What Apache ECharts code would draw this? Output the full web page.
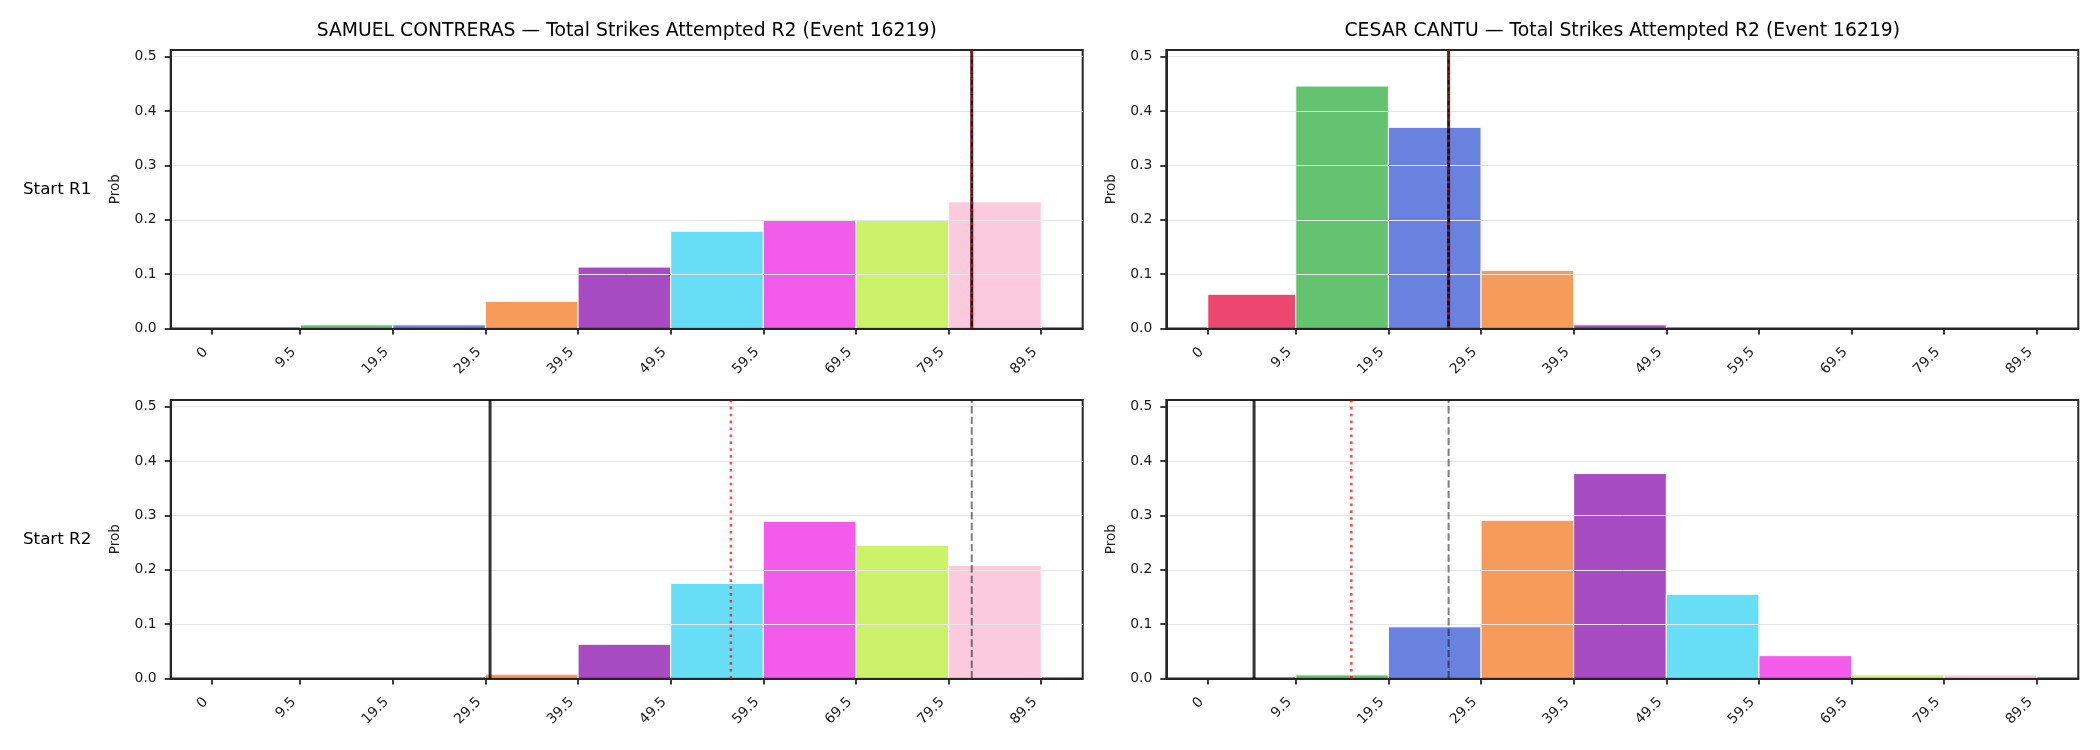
<!DOCTYPE html>
<html><head><meta charset="utf-8">
<script src="https://cdn.jsdelivr.net/npm/echarts@6/dist/echarts.min.js"></script>
<style>html,body{margin:0;padding:0;background:#fff}#c{width:2100px;height:750px}</style>
</head><body><div id="c"></div>
<script>
// ---- data ----
const binEdges = [0, 9.5, 19.5, 29.5, 39.5, 49.5, 59.5, 69.5, 79.5, 89.5];
const tickLabels = ['0', '9.5', '19.5', '29.5', '39.5', '49.5', '59.5', '69.5', '79.5', '89.5'];
const yTicks = [0, 0.1, 0.2, 0.3, 0.4, 0.5];
const fighters = ['SAMUEL CONTRERAS', 'CESAR CANTU'];
const rowLabels = ['Start R1', 'Start R2'];
const titleSuffix = ' \u2014 Total Strikes Attempted R2 (Event 16219)';
const samuelR1 = [0, 0.0067, 0.0067, 0.050, 0.113, 0.179, 0.200, 0.200, 0.233];
const samuelR2 = [0, 0, 0, 0.008, 0.063, 0.175, 0.289, 0.245, 0.208];
const cesarR1 = [0.063, 0.446, 0.370, 0.107, 0.0067, 0, 0, 0, 0];
const cesarR2 = [0, 0.0067, 0.095, 0.291, 0.377, 0.155, 0.042, 0.0067, 0.0067];
// vertical reference lines: [gray dashed, black solid, red dotted]
const samuelR1Lines = [82, 82, 82];
const samuelR2Lines = [82, 30, 56];
const cesarR1Lines = [26, 26, 26];
const cesarR2Lines = [26, 5, 15.5];
const binColors = ['rgba(230,25,75,0.8)', 'rgba(60,180,75,0.8)', 'rgba(67,99,216,0.8)', 'rgba(245,130,49,0.8)',
  'rgba(145,30,180,0.8)', 'rgba(66,212,244,0.8)', 'rgba(240,50,230,0.8)', 'rgba(191,239,69,0.8)', 'rgba(250,190,212,0.8)'];

// ---- layout ----
const Y_MAX = 0.5123, X_MIN = -4.475, X_MAX = 93.975;
const FONT = 'DejaVu Sans';
const gridLefts = [170.7, 1166.3];
const gridTops = [50, 400];
const GRID_W = 912, GRID_H = 278.5;
const panels = [
  { vals: samuelR1, lines: samuelR1Lines, col: 0, row: 0 },
  { vals: cesarR1, lines: cesarR1Lines, col: 1, row: 0 },
  { vals: samuelR2, lines: samuelR2Lines, col: 0, row: 1 },
  { vals: cesarR2, lines: cesarR2Lines, col: 1, row: 1 }
];
const lineStyles = [
  { color: 'rgba(0,0,0,0.5)', width: 2, type: [7.4, 3.2] },
  { color: 'rgba(0,0,0,0.8)', width: 3, type: 'solid' },
  { color: 'rgba(255,0,0,0.7)', width: 2.6, type: [2.6, 4.3] }
];
const AX = '#262626';

const grids = [], xAxes = [], yAxes = [], series = [], graphics = [];
panels.forEach((p, i) => {
  grids.push({ left: gridLefts[p.col], top: gridTops[p.row], width: GRID_W, height: GRID_H,
    show: true, borderColor: AX, borderWidth: 2, backgroundColor: 'transparent', containLabel: false });
  xAxes.push({ type: 'value', gridIndex: i, min: X_MIN, max: X_MAX, z: 5,
    axisLine: { show: true, onZero: false, lineStyle: { color: AX, width: 2 } },
    axisTick: { show: true, customValues: binEdges, length: 6, lineStyle: { color: AX, width: 1.8 } },
    axisLabel: { customValues: binEdges, rotate: 45, margin: 15, padding: [0, 9, 0, 0],
      fontSize: 14, color: '#1a1a1a', fontFamily: FONT,
      formatter: v => { const k = binEdges.indexOf(v); return k >= 0 ? tickLabels[k] : String(v); } },
    splitLine: { show: false } });
  yAxes.push({ type: 'value', gridIndex: i, min: 0, max: Y_MAX, interval: 0.1, z: 5,
    axisLine: { show: true, onZero: false, lineStyle: { color: AX, width: 2 } },
    axisTick: { show: true, customValues: yTicks, length: 6, lineStyle: { color: AX, width: 1.8 } },
    axisLabel: { customValues: yTicks, margin: 14, fontSize: 13.9, color: '#1a1a1a', fontFamily: FONT,
      formatter: v => v.toFixed(1) },
    splitLine: { show: true, lineStyle: { color: '#e5e5e5', width: 1 } } });
  series.push({ type: 'custom', xAxisIndex: i, yAxisIndex: i, z: 2,
    data: p.vals.map((v, k) => [binEdges[k], binEdges[k + 1], v]),
    encode: { x: [0, 1], y: 2 },
    renderItem: (params, api) => {
      const v = api.value(2);
      if (!(v > 0)) return null;
      const a = api.coord([api.value(0), v]);
      const b = api.coord([api.value(1), 0]);
      return { type: 'rect', shape: { x: a[0], y: a[1], width: b[0] - a[0], height: b[1] - a[1] },
        style: { fill: binColors[params.dataIndex], stroke: '#ffffff', lineWidth: 1 } };
    } });
  p.lines.forEach((lv, j) => {
    series.push({ type: 'line', xAxisIndex: i, yAxisIndex: i, z: 10 + j, symbol: 'none', silent: true,
      data: [[lv, 0], [lv, Y_MAX]], lineStyle: Object.assign({ cap: 'butt' }, lineStyles[j]) });
  });
  // y-axis name
  graphics.push({ type: 'text', x: gridLefts[p.col] - 55, y: gridTops[p.row] + GRID_H / 2, rotation: Math.PI / 2,
    style: { text: 'Prob', font: '13.5px "DejaVu Sans"', fill: '#1a1a1a', textAlign: 'center', textVerticalAlign: 'middle' } });
});
fighters.forEach((f, c) => {
  graphics.push({ type: 'text', x: gridLefts[c] + GRID_W / 2, y: 31,
    style: { text: f + titleSuffix, font: '18.8px "DejaVu Sans"', fill: '#000', textAlign: 'center', textVerticalAlign: 'middle' } });
});
rowLabels.forEach((r, k) => {
  graphics.push({ type: 'text', x: 23, y: gridTops[k] + GRID_H / 2,
    style: { text: r, font: '16.7px "DejaVu Sans"', fill: '#000', textAlign: 'left', textVerticalAlign: 'middle' } });
});

const chart = echarts.init(document.getElementById('c'), null, { renderer: 'canvas' });
chart.setOption({ animation: false, backgroundColor: '#ffffff', grid: grids, xAxis: xAxes, yAxis: yAxes,
  series: series, graphic: graphics });
</script></body></html>
